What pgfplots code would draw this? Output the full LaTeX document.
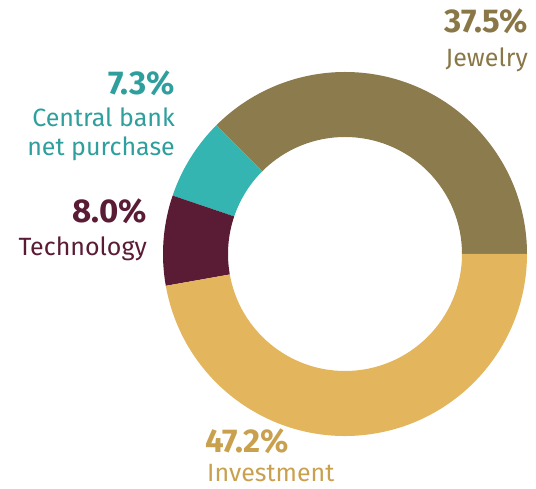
\documentclass[border=0pt]{standalone}
\usepackage{pgfplots}
\pgfplotsset{compat=1.18}
\usepackage{fontspec}
\setmainfont{Fira Sans}

\definecolor{jewel}{HTML}{8C7B4C}
\definecolor{cbank}{HTML}{35B5B2}
\definecolor{tech}{HTML}{5A1B35}
\definecolor{invest}{HTML}{E3B65D}
\definecolor{jeweltxt}{HTML}{8A7747}
\definecolor{cbanktxt}{HTML}{2E9F9C}
\definecolor{techtxt}{HTML}{5A1B35}
\definecolor{investtxt}{HTML}{C9A14E}

\newcommand{\pct}{\fontsize{33}{33}\selectfont\bfseries}
\newcommand{\lbl}{\fontsize{25}{25}\selectfont}

\begin{document}
\begin{tikzpicture}
\begin{axis}[
    x=1pt, y=1pt,
    xmin=0, xmax=536, ymin=0, ymax=489,
    scale only axis,
    hide axis,
    clip=false
]
% keep the page the size of the reference
\path (axis cs:0,0) rectangle (axis cs:536,489);
% centre and radii of the ring, in axis units
\def\cx{345}\def\cy{235}
\def\ro{182}\def\ri{117}
\gdef\angA{0}
\foreach \v/\c in {37.5/jewel, 7.3/cbank, 8.0/tech, 47.2/invest}{
    \pgfmathsetmacro\angB{\angA+3.6*\v}
    \edef\temp{\noexpand\fill[\c]
        ([shift={(\angA:\ro pt)}]axis cs:\cx,\cy)
        arc[start angle=\angA, end angle=\angB, radius=\ro pt]
        -- ([shift={(\angB:\ri pt)}]axis cs:\cx,\cy)
        arc[start angle=\angB, end angle=\angA, radius=\ri pt] -- cycle;}
    \temp
    \xdef\angA{\angB}
}

\node[anchor=base east, text=jeweltxt, inner sep=0pt] at (axis cs:528,456) {\pct 37.5\%};
\node[anchor=base east, text=jeweltxt, inner sep=0pt] at (axis cs:528,422) {\lbl Jewelry};

\node[anchor=base east, text=cbanktxt, inner sep=0pt] at (axis cs:175,394) {\pct 7.3\%};
\node[anchor=base east, text=cbanktxt, inner sep=0pt] at (axis cs:175,362) {\lbl Central bank};
\node[anchor=base east, text=cbanktxt, inner sep=0pt] at (axis cs:175,333) {\lbl net purchase};

\node[anchor=base east, text=techtxt, inner sep=0pt] at (axis cs:147,266) {\pct 8.0\%};
\node[anchor=base east, text=techtxt, inner sep=0pt] at (axis cs:147,233) {\lbl Technology};

\node[anchor=base west, text=investtxt, inner sep=0pt] at (axis cs:205,36) {\pct 47.2\%};
\node[anchor=base west, text=investtxt, inner sep=0pt] at (axis cs:207,7) {\lbl Investment};
\end{axis}
\end{tikzpicture}
\end{document}
